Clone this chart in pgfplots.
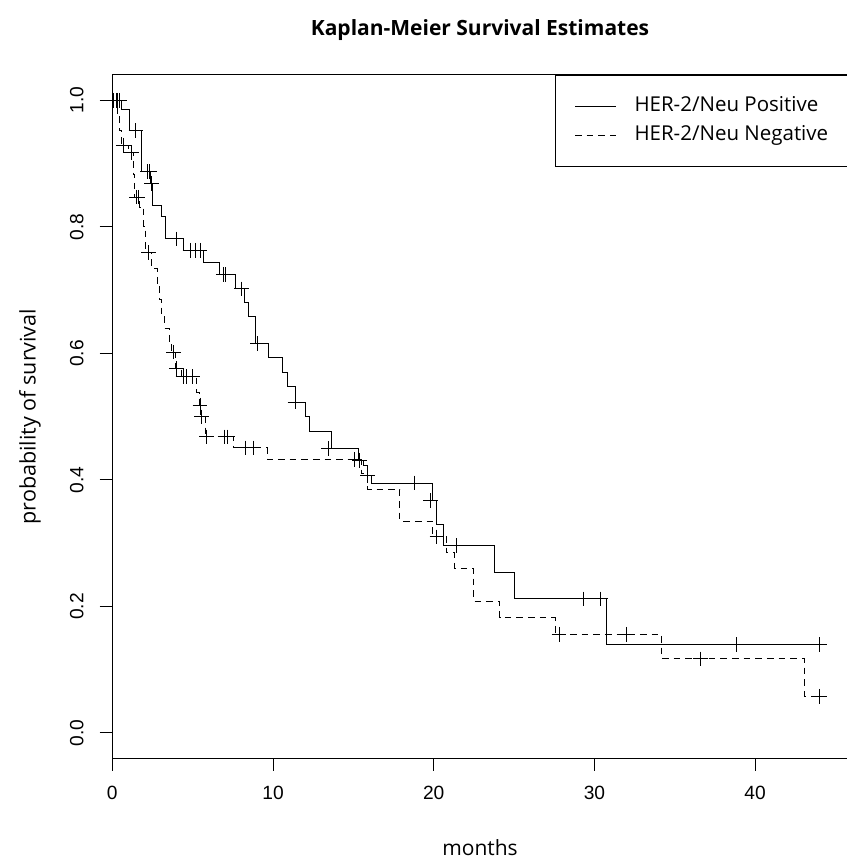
\documentclass[border=0pt]{standalone}
\usepackage{fontspec}
\setmainfont{Open Sans}
\newfontfamily\tickfont{Liberation Sans}
\usepackage{pgfplots}
\pgfplotsset{compat=1.18}
\begin{document}
\begin{tikzpicture}
\useasboundingbox (0pt,0pt) rectangle (508.2pt,516.6pt);
\begin{axis}[
  at={(67.38pt,61.62pt)}, anchor=south west,
  scale only axis, width=441.24pt, height=409.98pt,
  xmin=0, xmax=45.76, ymin=-0.04, ymax=1.04,
  clip=false,
  axis line style={line width=0.6pt},
  xtick={0,10,20,30,40}, ytick={0,0.2,0.4,0.6,0.8,1.0},
  xtick pos=left, ytick pos=left,
  tick align=outside, major tick length=7.6pt,
  every tick/.style={black, line width=0.6pt},
  /pgf/number format/assume math mode=true,
  yticklabel={\pgfmathprintnumber[fixed,fixed zerofill,precision=1]{\tick}},
  ticklabel style={font=\tickfont\fontsize{11.5}{13}\selectfont},
  xticklabel style={anchor=north, inner sep=0pt},
  xticklabel shift=9pt,
  yticklabel style={rotate=90, anchor=south, inner sep=0pt},
  yticklabel shift=9.5pt,
  title={\textbf{Kaplan-Meier Survival Estimates}},
  every axis title shift=0pt,
  title style={at={(axis description cs:0.5,1.066)}, anchor=center, font=\fontsize{12.6}{15}\selectfont},
  xlabel={months},
  xlabel style={at={(axis description cs:0.5,-0.131)}, anchor=center, font=\fontsize{12.6}{15}\selectfont},
  ylabel={probability of survival},
  ylabel style={at={(axis description cs:-0.112,0.5)}, anchor=center, rotate=0, font=\fontsize{12.9}{15}\selectfont},
  legend style={at={(1,1)}, anchor=north east, draw=black, line width=0.6pt,
    font=\fontsize{12.3}{15}\selectfont, inner xsep=11.4pt, inner ysep=12.3pt,
    row sep=4.9pt,
    nodes={inner sep=0pt, text height=9.5pt, text depth=3pt},
    /tikz/every odd column/.append style={column sep=10.8pt}},
  legend cell align=left,
  legend image code/.code={\draw[#1] (0pt,0pt) -- (24.6pt,0pt);},
]
% HER-2/Neu Positive
\addplot[const plot, black, line width=0.6pt] coordinates {
(0,1.0) (0.55,0.985) (1.06,0.952) (1.83,0.887) (2.35,0.869) (2.5,0.834)
(3.07,0.817) (3.28,0.781) (4.42,0.763) (5.7,0.743) (6.66,0.7245) (7.64,0.702)
(8.2,0.681) (8.47,0.659) (8.92,0.6155) (9.7,0.593) (10.6,0.569) (10.9,0.547)
(11.37,0.523) (12.0,0.4995) (12.3,0.477) (13.65,0.4495) (15.3,0.431) (15.6,0.423)
(15.9,0.407) (16.1,0.395) (19.9,0.367) (20.2,0.33) (20.6,0.296) (23.8,0.254)
(25.05,0.212) (30.77,0.140) (44.0,0.140)};
\addlegendentry{HER-2/Neu Positive}
% HER-2/Neu Negative
\addplot[const plot, black, line width=0.6pt, dash pattern=on 4pt off 3pt] coordinates {
(0,1.0) (0.3,0.976) (0.45,0.952) (0.6,0.929) (1.0,0.917) (1.3,0.882) (1.4,0.847)
(1.7,0.83) (1.97,0.8) (2.05,0.759) (2.45,0.734) (2.8,0.71) (2.95,0.685)
(3.07,0.66) (3.25,0.64) (3.55,0.6155) (3.7,0.602) (3.95,0.576) (4.3,0.563)
(5.25,0.538) (5.4,0.518) (5.5,0.4995) (5.77,0.468) (7.53,0.4505) (9.65,0.432)
(15.5,0.41) (15.9,0.385) (17.9,0.335) (19.9,0.31) (20.8,0.285) (21.3,0.26)
(22.5,0.208) (24.1,0.182) (27.55,0.156) (34.19,0.117) (43.1,0.058) (44.0,0.058)};
\addlegendentry{HER-2/Neu Negative}
% censoring marks
\addplot[only marks, mark=+, mark size=4.4pt, black, mark options={line width=0.6pt}, forget plot] coordinates {
(0.25,1.0) (0.45,1.0) (1.47,0.952) (2.2,0.887) (2.3,0.887) (2.45,0.869)
(4.0,0.781) (4.84,0.763) (5.15,0.763) (5.46,0.763) (6.9,0.7245) (7.07,0.7245)
(8.05,0.702) (9.05,0.6155) (11.37,0.523) (13.45,0.4495) (15.4,0.431) (15.9,0.407)
(18.8,0.395) (19.8,0.367) (21.4,0.296) (29.3,0.212) (30.4,0.212) (38.85,0.140) (44.0,0.140)};
\addplot[only marks, mark=+, mark size=4.4pt, black, mark options={line width=0.6pt}, forget plot] coordinates {
(0.1,1.0) (0.3,1.0) (0.68,0.929) (1.2,0.917) (1.5,0.847) (1.6,0.847) (2.26,0.759)
(3.8,0.602) (4.0,0.576) (4.4,0.563) (4.6,0.563) (5.0,0.563) (5.46,0.518)
(5.56,0.4995) (5.87,0.468) (7.01,0.468) (7.16,0.468) (8.26,0.4505) (8.78,0.4505)
(15.1,0.432) (20.2,0.31) (27.8,0.156) (32.0,0.156) (36.6,0.117) (44.0,0.058)};
% axis tick marks
\pgfplotsinvokeforeach{0,10,20,30,40}{\draw[line width=0.6pt, black] (axis cs:#1,-0.04) -- ++(0pt,-7.6pt);}
\pgfplotsinvokeforeach{0,0.2,0.4,0.6,0.8,1.0}{\draw[line width=0.6pt, black] (axis cs:0,#1) -- ++(-7.6pt,0pt);}
\end{axis}
\end{tikzpicture}
\end{document}
